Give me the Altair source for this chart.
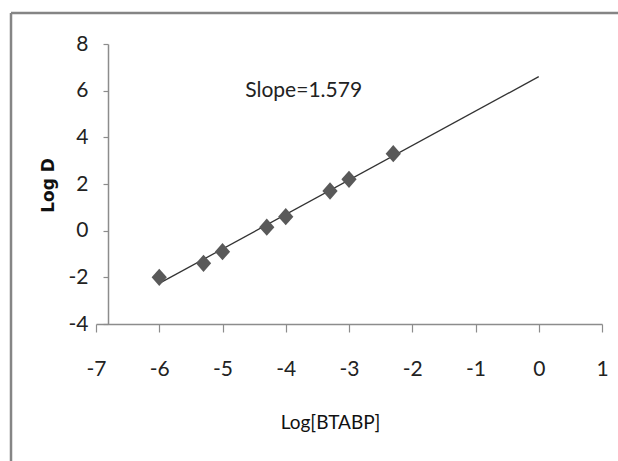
import altair as alt
import pandas as pd

# Data
log_btabp = [-6.0, -5.3, -5.0, -4.3, -4.0, -3.3, -3.0, -2.3]
log_d = [-2.0, -1.4, -0.9, 0.15, 0.6, 1.7, 2.2, 3.3]

trend_x = [-6.0, 0.0]
trend_y = [-2.26, 6.6]

note_x = [-4.64]
note_y = [5.74]
note_text = ["Slope=1.579"]

x_ticks = [-7, -6, -5, -4, -3, -2, -1, 0, 1]
y_ticks = [-4, -2, 0, 2, 4, 6, 8]

pts = pd.DataFrame({"x": log_btabp, "y": log_d})
trend = pd.DataFrame({"x": trend_x, "y": trend_y})
note = pd.DataFrame({"x": note_x, "y": note_y, "t": note_text})

LABEL_FONT = "Lato"
AXCOL = "#8c8c8c"

xscale = alt.Scale(domain=[-7, 1], nice=False, zero=False)
yscale = alt.Scale(domain=[-4, 8], nice=False, zero=False)

xaxis = alt.Axis(
    values=x_ticks, grid=False, domainColor=AXCOL, tickColor=AXCOL,
    domainWidth=1.5, tickWidth=1.2, tickSize=8,
    labelExpr="datum.value + ''",
    labelFont=LABEL_FONT, labelFontSize=21, labelColor="#222222",
    labelPadding=26, labelFlush=False, labelOverlap=False,
    title="Log[BTABP]", titleFont=LABEL_FONT, titleFontSize=19,
    titleFontWeight="normal", titleColor="#111111",
    titleX=234, titleY=104, titleAlign="center", titleBaseline="alphabetic",
)
yaxis = alt.Axis(
    values=y_ticks, grid=False, domainColor=AXCOL, tickColor=AXCOL,
    domainWidth=1.5, tickWidth=1.2, tickSize=5, offset=-12,
    labelExpr="datum.value + ''",
    labelFont=LABEL_FONT, labelFontSize=21, labelColor="#222222",
    labelPadding=15, labelFlush=False, labelOverlap=False,
    title="Log D", titleFont="DejaVu Sans", titleFontSize=17,
    titleFontWeight="bold", titleColor="#111111", titleAngle=-90,
    titleX=-55, titleY=141, titleAlign="center", titleBaseline="alphabetic",
)

points = alt.Chart(pts).mark_point(
    shape="M-0.88,0L0,-1L0.88,0L0,1Z", size=300, filled=True,
    color="#595959", opacity=1, strokeWidth=0,
).encode(
    x=alt.X("x:Q", scale=xscale, axis=xaxis),
    y=alt.Y("y:Q", scale=yscale, axis=yaxis),
)

line = alt.Chart(trend).mark_line(color="#333333", strokeWidth=1.3).encode(
    x=alt.X("x:Q", scale=xscale),
    y=alt.Y("y:Q", scale=yscale),
)

text = alt.Chart(note).mark_text(
    align="left", baseline="alphabetic", font=LABEL_FONT, fontSize=21,
    color="#222222",
).encode(
    x=alt.X("x:Q", scale=xscale),
    y=alt.Y("y:Q", scale=yscale),
    text="t:N",
)

frame_src = alt.Data(values=[{"k": 0}])
frame_top = alt.Chart(frame_src).mark_rule(color="#858585", strokeWidth=2.5).encode(
    x=alt.value(-85), x2=alt.value(600), y=alt.value(-31)
)
frame_left = alt.Chart(frame_src).mark_rule(color="#858585", strokeWidth=2.5).encode(
    x=alt.value(-85), y=alt.value(-31), y2=alt.value(450)
)

chart = alt.layer(frame_top, frame_left, line, points, text).properties(
    width=506, height=280,
    autosize=alt.AutoSizeParams(type="none"),
    padding={"left": 96, "top": 44, "right": 16, "bottom": 137},
    background="white",
).configure_view(stroke=None)

chart.save("out.html", embed_options={"renderer": "svg", "actions": False})
